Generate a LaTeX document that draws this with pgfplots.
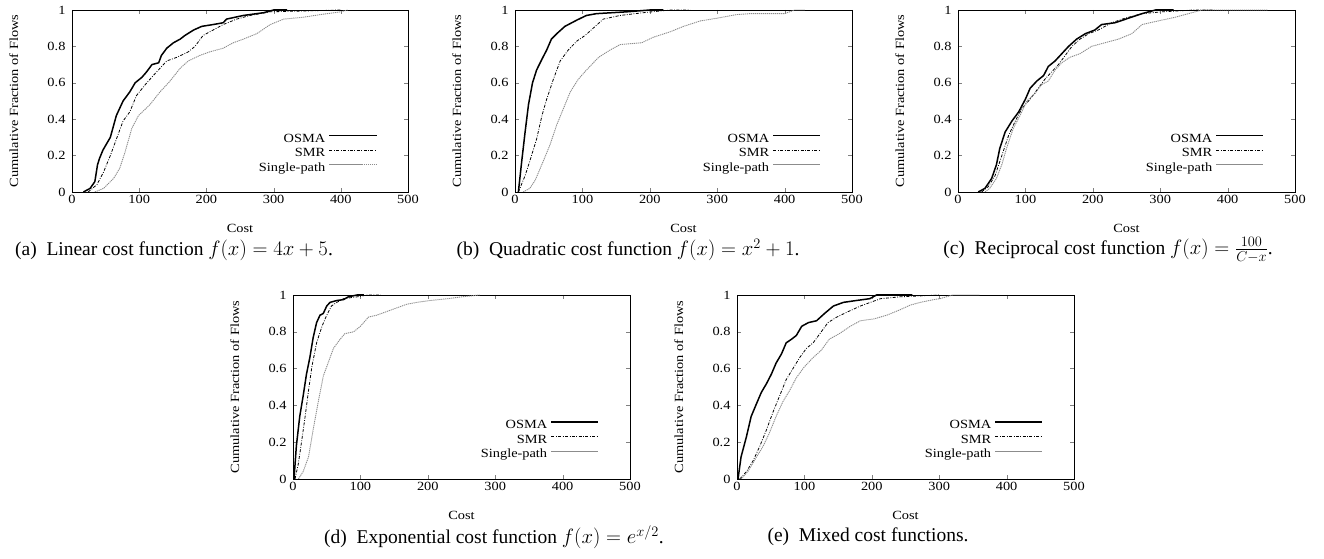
\documentclass[border=0pt]{standalone}
\usepackage{pgfplots}
\pgfplotsset{compat=1.18}
\usepackage{fontspec}
\setmainfont{Liberation Serif}[FakeStretch=1.15]
\newfontfamily\capfont{Liberation Serif}

\newcommand{\chartfont}{\fontsize{12.5}{14}\selectfont}
\newcommand{\captionfont}{\capfont\fontsize{19.5}{22}\selectfont}

\pgfplotsset{
  cdfaxis/.style={
    scale only axis,
    anchor=south west,
    xmin=0, xmax=500, ymin=0, ymax=1,
    xtick={0,100,200,300,400,500},
    ytick={0,0.2,0.4,0.6,0.8,1},
    yticklabels={0,0.2,0.4,0.6,0.8,1},
    tick align=inside,
    tick pos=both,
    major tick length=4pt,
    axis line style={line width=0.9pt},
    /pgf/number format/assume math mode=true,
    tick label style={font=\chartfont},
    label style={font=\chartfont},
    yticklabel style={xshift=-3pt},
    xlabel={Cost},
    ylabel={Cumulative Fraction of Flows},
    ylabel style={at={(axis description cs:-0.173,0.5)}, anchor=center},
    legend cell align=right,
    legend plot pos=right,
    legend image code/.code={\path (0pt,0pt); \draw[##1] (3pt,3.5pt) -- (50pt,3.5pt);},
    legend style={draw=none, fill=none, font=\chartfont, anchor=north east,
      at={(axis description cs:0.918,0.342)}, row sep=0pt,
      nodes={inner sep=0.5pt, text height=10pt, text depth=3.5pt}},
  },
  osma/.style={black, line width=1.5pt},
  smr/.style={black, line width=0.8pt, dash pattern=on 3pt off 1.5pt on 0.8pt off 1.5pt},
  single/.style={black!45, line width=0.9pt, dash pattern=on 1.2pt off 0.8pt},
}

\begin{document}
\begin{tikzpicture}[x=1pt,y=1pt]
\useasboundingbox (0,0) rectangle (1324,559);

% (a) linear
\begin{axis}[cdfaxis, at={(72pt,367pt)}, width=336pt, height=182pt,
  xlabel style={at={(axis description cs:0.5,-0.198)}, anchor=center}]
\addplot[osma] coordinates {(17,0)(27,0.02)(34,0.057)(38,0.15)(41,0.185)(46,0.23)(57,0.30)(66,0.42)(76,0.50)(86,0.55)(94,0.60)(104,0.63)(111,0.66)(119,0.70)(129,0.71)(133,0.75)(141,0.79)(151,0.82)(161,0.84)(168,0.86)(181,0.89)(193,0.91)(210,0.92)(225,0.93)(230,0.95)(255,0.97)(285,0.985)(300,1.0)(320,1.0)};
\addlegendentry{OSMA}
\addplot[smr] coordinates {(24,0)(37,0.04)(47,0.11)(57,0.20)(66,0.29)(76,0.39)(86,0.44)(96,0.53)(109,0.59)(121,0.64)(131,0.68)(141,0.72)(156,0.74)(173,0.77)(183,0.80)(195,0.86)(210,0.89)(225,0.92)(245,0.95)(265,0.97)(295,0.99)(350,0.995)(400,1.0)};
\addlegendentry{SMR}
\addplot[single] coordinates {(34,0)(47,0.02)(62,0.075)(71,0.13)(79,0.22)(89,0.35)(99,0.42)(116,0.48)(131,0.55)(146,0.61)(161,0.68)(173,0.72)(190,0.75)(205,0.77)(225,0.79)(240,0.82)(255,0.84)(275,0.87)(295,0.92)(315,0.95)(344,0.96)(370,0.975)(400,0.99)(410,1.0)};
\addlegendentry{Single-path}
\end{axis}

% (b) quadratic
\begin{axis}[cdfaxis, at={(515pt,367pt)}, width=337pt, height=182pt,
  xlabel style={at={(axis description cs:0.5,-0.198)}, anchor=center}]
\addplot[osma] coordinates {(5,0)(10,0.17)(15,0.33)(20,0.48)(26,0.60)(32,0.67)(40,0.73)(47,0.78)(54,0.84)(62,0.87)(74,0.91)(92,0.945)(106,0.97)(121,0.98)(166,0.99)(200,1.0)(220,1.0)};
\addlegendentry{OSMA}
\addplot[smr] coordinates {(5,0)(15,0.09)(22,0.17)(32,0.29)(40,0.42)(47,0.51)(57,0.62)(67,0.72)(79,0.78)(92,0.83)(104,0.86)(116,0.90)(131,0.95)(156,0.97)(190,0.985)(230,1.0)(260,1.0)};
\addlegendentry{SMR}
\addplot[single] coordinates {(12,0)(22,0.02)(30,0.065)(42,0.17)(52,0.26)(62,0.37)(72,0.46)(82,0.55)(94,0.62)(106,0.67)(124,0.74)(141,0.78)(156,0.81)(188,0.82)(205,0.85)(230,0.88)(250,0.91)(275,0.94)(300,0.955)(329,0.975)(349,0.98)(400,0.98)(415,1.0)(430,1.0)};
\addlegendentry{Single-path}
\end{axis}

% (c) reciprocal
\begin{axis}[cdfaxis, at={(958pt,367pt)}, width=337pt, height=182pt,
  xlabel style={at={(axis description cs:0.5,-0.198)}, anchor=center}]
\addplot[osma] coordinates {(30,0)(40,0.02)(50,0.075)(57,0.15)(62,0.24)(70,0.33)(80,0.39)(90,0.44)(100,0.51)(107,0.57)(117,0.61)(127,0.64)(134,0.69)(144,0.72)(154,0.76)(164,0.80)(176,0.84)(189,0.87)(203,0.89)(213,0.92)(233,0.93)(253,0.955)(273,0.98)(293,1.0)(320,1.0)};
\addlegendentry{OSMA}
\addplot[smr] coordinates {(35,0)(45,0.03)(55,0.09)(65,0.20)(75,0.31)(85,0.39)(95,0.46)(107,0.51)(119,0.57)(129,0.62)(139,0.66)(149,0.70)(159,0.75)(169,0.80)(181,0.84)(194,0.87)(208,0.89)(228,0.93)(248,0.955)(273,0.98)(303,0.99)(350,1.0)(380,1.0)};
\addlegendentry{SMR}
\addplot[single] coordinates {(40,0)(47,0.02)(57,0.075)(65,0.15)(72,0.24)(82,0.35)(92,0.42)(102,0.50)(114,0.54)(124,0.59)(134,0.61)(144,0.67)(154,0.71)(166,0.74)(181,0.76)(198,0.80)(218,0.82)(238,0.84)(258,0.87)(273,0.92)(297,0.94)(322,0.96)(342,0.98)(362,1.0)(460,1.0)};
\addlegendentry{Single-path}
\end{axis}

% (d) exponential
\begin{axis}[cdfaxis, at={(293pt,80pt)}, width=337pt, height=184pt,
  xlabel style={at={(axis description cs:0.5,-0.196)}, anchor=center}]
\addplot[osma] coordinates {(1.5,0)(5,0.18)(10,0.34)(15,0.45)(20,0.57)(25,0.66)(30,0.77)(35,0.85)(40,0.89)(45,0.90)(50,0.94)(55,0.96)(65,0.97)(75,0.975)(82,0.99)(95,1.0)(105,1.0)};
\addlegendentry{OSMA}
\addplot[smr] coordinates {(3,0)(8,0.085)(13,0.21)(18,0.34)(23,0.48)(28,0.61)(35,0.74)(43,0.83)(50,0.89)(57,0.94)(65,0.96)(75,0.98)(95,0.99)(110,1.0)(130,1.0)};
\addlegendentry{SMR}
\addplot[single] coordinates {(8,0)(15,0.04)(23,0.12)(30,0.27)(38,0.43)(45,0.56)(52,0.63)(60,0.71)(70,0.76)(77,0.79)(90,0.80)(100,0.83)(112,0.88)(124,0.89)(139,0.91)(154,0.93)(169,0.95)(184,0.96)(203,0.97)(230,0.98)(250,0.99)(277,1.0)};
\addlegendentry{Single-path}
\end{axis}

% (e) mixed
\begin{axis}[cdfaxis, at={(737pt,80pt)}, width=337pt, height=184pt,
  xlabel style={at={(axis description cs:0.5,-0.196)}, anchor=center}]
\addplot[osma] coordinates {(1.5,0)(6,0.12)(14,0.23)(21,0.34)(29,0.41)(36,0.47)(44,0.52)(51,0.57)(58,0.63)(66,0.68)(73,0.74)(81,0.76)(88,0.78)(96,0.83)(106,0.85)(118,0.86)(130,0.90)(143,0.94)(158,0.96)(177,0.97)(197,0.98)(207,1.0)(260,1.0)};
\addlegendentry{OSMA}
\addplot[smr] coordinates {(4,0)(14,0.04)(24,0.10)(34,0.18)(44,0.27)(53,0.36)(63,0.45)(73,0.54)(83,0.60)(93,0.66)(103,0.71)(113,0.74)(123,0.79)(135,0.85)(148,0.88)(165,0.91)(183,0.94)(198,0.96)(213,0.98)(242,0.99)(300,1.0)};
\addlegendentry{SMR}
\addplot[single] coordinates {(6,0)(16,0.04)(29,0.12)(39,0.18)(48,0.25)(58,0.34)(68,0.42)(78,0.48)(88,0.55)(100,0.61)(113,0.66)(125,0.70)(137,0.76)(152,0.79)(168,0.83)(183,0.86)(203,0.87)(222,0.89)(242,0.92)(257,0.945)(272,0.96)(292,0.975)(301,0.98)(320,1.0)(360,1.0)};
\addlegendentry{Single-path}
\end{axis}

% sub-captions
\node[font=\captionfont, anchor=center] at (174,309) {(a)\ \ Linear cost function $f(x) = 4x + 5$.};
\node[font=\captionfont, anchor=center] at (628,309) {(b)\ \ Quadratic cost function $f(x) = x^2 + 1$.};
\node[font=\captionfont, anchor=center] at (1108,309) {(c)\ \ Reciprocal cost function $f(x) = \frac{100}{C-x}$.};
\node[font=\captionfont, anchor=center] at (494,22) {(d)\ \ Exponential cost function $f(x) = e^{x/2}$.};
\node[font=\captionfont, anchor=center] at (868,22) {(e)\ \ Mixed cost functions.};
\end{tikzpicture}
\end{document}
